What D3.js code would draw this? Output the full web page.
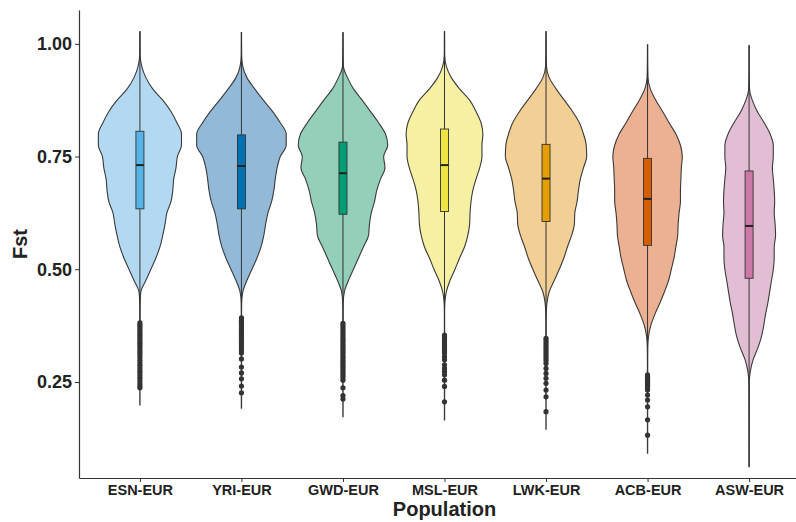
<!DOCTYPE html>
<html>
<head>
<meta charset="utf-8">
<script src="https://cdn.jsdelivr.net/npm/d3@7"></script>
<style>
  body { margin: 0; background: #fff; }
  svg text { font-family: "Liberation Sans", Arial, sans-serif; font-weight: bold; fill: #222; }
</style>
</head>
<body>
<svg id="fstViolin" width="796" height="522"></svg>
<script>
// populations and colours
const populations = ["ESN-EUR", "YRI-EUR", "GWD-EUR", "MSL-EUR", "LWK-EUR", "ACB-EUR", "ASW-EUR"];
const boxColors = ["#56B4E9", "#0072B2", "#009E73", "#F0E442", "#E69F00", "#D55E00", "#CC79A7"];
const violinColors = ["#B3D9F2", "#93B9D9", "#94CFBA", "#F6F0A2", "#F2CF94", "#EBB192", "#E2BED4"];

// box stats
const q1 = [0.634, 0.634, 0.622, 0.628, 0.606, 0.553, 0.480];
const medians = [0.731, 0.729, 0.713, 0.731, 0.701, 0.656, 0.596];
const q3 = [0.806, 0.798, 0.782, 0.811, 0.777, 0.746, 0.718];
const whiskerLow = [0.385, 0.395, 0.383, 0.358, 0.351, 0.270, 0.062];
const whiskerHigh = [1.027, 1.025, 1.025, 1.027, 1.027, 0.998, 0.996];
const fstMin = [0.199, 0.192, 0.173, 0.166, 0.145, 0.092, 0.062];
const fstMax = [1.027, 1.025, 1.025, 1.027, 1.027, 0.998, 0.996];

// violin density (relative) on a shared Fst grid
const densityGrid = [0.25, 0.275, 0.30, 0.325, 0.35, 0.375, 0.40, 0.425, 0.45, 0.475,
  0.50, 0.525, 0.55, 0.575, 0.60, 0.625, 0.65, 0.675, 0.70, 0.725,
  0.75, 0.775, 0.80, 0.825, 0.85, 0.875, 0.90, 0.925, 0.95, 0.975];
const densESN = [0.003, 0.003, 0.003, 0.003, 0.003, 0.003, 0.003, 0.005, 0.02, 0.13, 0.24, 0.35, 0.44, 0.50, 0.55, 0.59, 0.68, 0.72, 0.74, 0.79, 0.82, 0.91, 0.91, 0.81, 0.68, 0.50, 0.28, 0.13, 0.04, 0.005];
const densYRI = [0.003, 0.003, 0.003, 0.003, 0.003, 0.003, 0.003, 0.005, 0.03, 0.12, 0.23, 0.34, 0.43, 0.49, 0.53, 0.58, 0.66, 0.71, 0.74, 0.78, 0.85, 0.98, 0.98, 0.85, 0.68, 0.48, 0.29, 0.12, 0.03, 0.005];
const densGWD = [0.003, 0.003, 0.003, 0.003, 0.003, 0.003, 0.003, 0.005, 0.03, 0.12, 0.23, 0.34, 0.45, 0.56, 0.58, 0.62, 0.69, 0.74, 0.82, 0.92, 0.89, 0.98, 0.93, 0.78, 0.60, 0.42, 0.23, 0.10, 0.01, 0.005];
const densMSL = [0.003, 0.003, 0.003, 0.003, 0.003, 0.003, 0.003, 0.008, 0.04, 0.12, 0.23, 0.33, 0.44, 0.51, 0.55, 0.56, 0.58, 0.62, 0.69, 0.77, 0.82, 0.82, 0.84, 0.80, 0.69, 0.55, 0.33, 0.15, 0.04, 0.005];
const densLWK = [0.003, 0.003, 0.003, 0.003, 0.003, 0.003, 0.005, 0.02, 0.07, 0.18, 0.29, 0.39, 0.47, 0.56, 0.62, 0.63, 0.68, 0.71, 0.75, 0.82, 0.89, 0.88, 0.82, 0.73, 0.58, 0.40, 0.22, 0.07, 0.01, 0.005];
const densACB = [0.003, 0.003, 0.003, 0.005, 0.02, 0.07, 0.16, 0.27, 0.37, 0.46, 0.52, 0.58, 0.62, 0.66, 0.67, 0.69, 0.72, 0.72, 0.73, 0.74, 0.76, 0.72, 0.62, 0.47, 0.33, 0.18, 0.06, 0.01, 0.005, 0.003];
const densASW = [0.005, 0.03, 0.09, 0.19, 0.27, 0.32, 0.36, 0.41, 0.45, 0.49, 0.53, 0.55, 0.55, 0.58, 0.57, 0.55, 0.56, 0.55, 0.53, 0.51, 0.53, 0.53, 0.46, 0.33, 0.18, 0.07, 0.01, 0.005, 0.003, 0.003];
const densities = [densESN, densYRI, densGWD, densMSL, densLWK, densACB, densASW];

// outlier points
const outESN = [0.381, 0.376, 0.371, 0.366, 0.361, 0.356, 0.351, 0.346, 0.341, 0.336, 0.331, 0.326, 0.320, 0.315, 0.310, 0.304, 0.298, 0.292, 0.287, 0.281, 0.275, 0.270, 0.264, 0.258, 0.252, 0.246, 0.241, 0.237];
const outYRI = [0.392, 0.387, 0.382, 0.377, 0.372, 0.367, 0.362, 0.357, 0.352, 0.347, 0.342, 0.337, 0.332, 0.326, 0.320, 0.314, 0.301, 0.283, 0.270, 0.257, 0.241, 0.226];
const outGWD = [0.380, 0.375, 0.370, 0.365, 0.360, 0.355, 0.350, 0.345, 0.340, 0.335, 0.330, 0.325, 0.320, 0.315, 0.310, 0.305, 0.300, 0.295, 0.290, 0.285, 0.280, 0.275, 0.270, 0.265, 0.260, 0.254, 0.237, 0.220, 0.212];
const outMSL = [0.354, 0.349, 0.344, 0.339, 0.334, 0.329, 0.324, 0.319, 0.314, 0.306, 0.299, 0.288, 0.280, 0.273, 0.266, 0.254, 0.240, 0.206];
const outLWK = [0.347, 0.342, 0.337, 0.332, 0.327, 0.322, 0.317, 0.312, 0.307, 0.302, 0.297, 0.291, 0.280, 0.269, 0.258, 0.247, 0.232, 0.217, 0.184];
const outACB = [0.266, 0.262, 0.258, 0.254, 0.250, 0.246, 0.242, 0.238, 0.232, 0.221, 0.210, 0.195, 0.166, 0.132];
const outASW = [];
const outliers = [outESN, outYRI, outGWD, outMSL, outLWK, outACB, outASW];

const yTicks = [0.25, 0.50, 0.75, 1.00];
const yDomain = [0.037, 1.075];

// create svg
let svg = d3.select("svg#fstViolin"),
  margin = { top: 10, right: -14, bottom: 44, left: 79 },
  width = +svg.attr("width") - margin.left - margin.right,
  height = +svg.attr("height") - margin.top - margin.bottom;

let xScale = d3.scalePoint().domain(populations).range([0, width]).padding(0.6),
  yScale = d3.scaleLinear().domain(yDomain).range([height, 0]),
  wScale = d3.scaleLinear().domain([0, 1]).range([0, xScale.step() * 0.45]);

let g = svg.append("g")
  .attr("transform", "translate(" + margin.left + "," + margin.top + ")");

// build violin outlines
let violins = populations.map((p, i) => {
  let pts = [{ v: fstMin[i], d: 0.003 }];
  densityGrid.forEach((v, j) => {
    if (v > fstMin[i] && v < fstMax[i]) pts.push({ v: v, d: densities[i][j] });
  });
  pts.push({ v: fstMax[i], d: 0.003 });
  return { pop: p, i: i, pts: pts };
});

let area = d3.area()
  .curve(d3.curveMonotoneY)
  .y(d => yScale(d.v));

let pop = g.selectAll(".pop")
  .data(violins)
  .enter()
  .append("g")
  .attr("class", "pop")
  .attr("transform", d => "translate(" + xScale(d.pop) + ",0)");

pop.append("path")
  .attr("d", d => area.x0(p => -wScale(p.d)).x1(p => wScale(p.d))(d.pts))
  .attr("fill", d => violinColors[d.i])
  .attr("stroke", "#3a3a3a")
  .attr("stroke-width", 1.1);

// whiskers
pop.append("line")
  .attr("x1", 0).attr("x2", 0)
  .attr("y1", d => yScale(whiskerLow[d.i]))
  .attr("y2", d => yScale(whiskerHigh[d.i]))
  .attr("stroke", "#333")
  .attr("stroke-width", 1);

// boxes
pop.append("rect")
  .attr("x", -4)
  .attr("width", 8)
  .attr("y", d => yScale(q3[d.i]))
  .attr("height", d => yScale(q1[d.i]) - yScale(q3[d.i]))
  .attr("fill", d => boxColors[d.i])
  .attr("stroke", "#333")
  .attr("stroke-width", 0.9);

pop.append("line")
  .attr("x1", -4).attr("x2", 4)
  .attr("y1", d => yScale(medians[d.i]))
  .attr("y2", d => yScale(medians[d.i]))
  .attr("stroke", "#222")
  .attr("stroke-width", 2);

// outliers
pop.selectAll(".outlier")
  .data(d => outliers[d.i])
  .enter()
  .append("circle")
  .attr("class", "outlier")
  .attr("cx", 0)
  .attr("cy", d => yScale(d))
  .attr("r", 2.6)
  .attr("fill", "#333");

// axes
let xAxis = g.append("g")
  .attr("transform", "translate(0," + height + ")")
  .call(d3.axisBottom(xScale).tickSize(4).tickSizeOuter(0).tickPadding(3));
xAxis.selectAll("text").style("font-size", "14.5px");

let yAxis = g.append("g")
  .call(d3.axisLeft(yScale).tickValues(yTicks).tickFormat(d3.format(".2f"))
    .tickSize(4).tickSizeOuter(0).tickPadding(3));
yAxis.selectAll("text").style("font-size", "18px");

g.selectAll(".domain").attr("stroke", "#333").attr("stroke-width", 1.2);
g.selectAll(".tick line").attr("stroke", "#333");

// titles
svg.append("text")
  .attr("x", margin.left + (xScale.range()[1]) / 2)
  .attr("y", 516)
  .attr("text-anchor", "middle")
  .style("font-size", "20px")
  .text("Population");

svg.append("text")
  .attr("transform", "translate(26.7," + (margin.top + height / 2) + ") rotate(-90)")
  .attr("text-anchor", "middle")
  .style("font-size", "20px")
  .text("Fst");
</script>
</body>
</html>
